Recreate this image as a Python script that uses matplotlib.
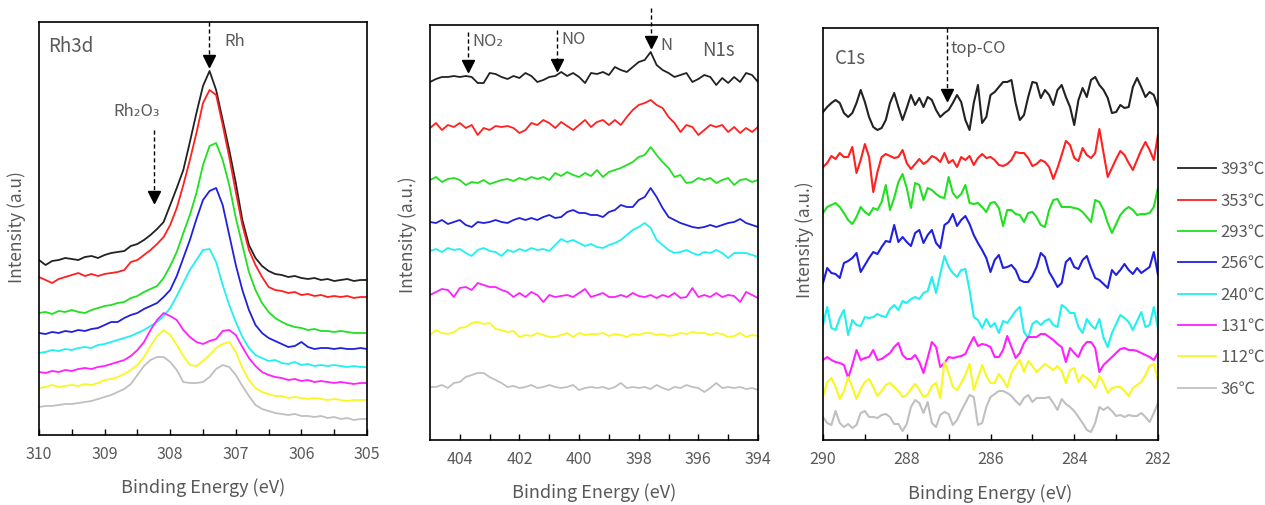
import numpy as np
import matplotlib
matplotlib.use("Agg")
import matplotlib.pyplot as plt

plt.rcParams['font.family'] = ['Noto Sans CJK JP', 'DejaVu Sans']
TXT = '#595959'

temps = ['393℃', '353℃', '293℃', '256℃', '240℃', '131℃', '112℃', '36℃']
colors = ['#222222', '#ff2020', '#20e020', '#2020e0', '#20f0f0', '#ff20ff', '#f8f820', '#c0c0c0']

# Rh3d, 310 -> 305 eV, 0.1 eV step (intensity, a.u., offset stacked)
rh_energy = np.linspace(310, 305, 51)
rh_393 = [175,170,174,175,177,176,175,178,179,177, 180,182,183,184,189,191,195,200,206,213,
          230,247,265,293,322,349,364,345,315,285, 252,215,190,177,169,164,161,160,158,159,
          157,156,157,155,156,154,155,156,154,155,155]
rh_353 = [158,155,152,156,158,160,162,159,161,159, 161,162,163,165,173,175,180,185,191,198,
          210,227,250,275,302,332,345,340,310,278, 243,210,185,170,158,148,145,144,142,143,
          140,141,139,140,138,139,138,139,137,138,138]
rh_293 = [122,123,121,124,123,125,123,122,125,127, 129,130,132,133,137,139,143,146,149,157,
          169,183,202,220,242,270,289,292,275,250, 217,190,163,145,132,123,117,113,110,108,
          107,105,106,104,104,103,104,103,102,102,102]
rh_256 = [102,101,103,102,104,103,105,104,106,107, 110,113,113,117,120,122,126,129,132,138,
          145,159,177,195,216,235,244,247,230,200, 170,145,125,110,102,97,94,91,88,89,
          93,88,86,87,87,86,87,86,86,87,86]
rh_240 = [82,83,85,84,86,85,87,88,87,90, 91,93,95,97,99,102,105,109,113,119,
          127,139,152,165,175,185,186,173,150,130, 113,98,87,80,77,74,75,72,71,73,
          70,71,69,70,69,70,69,68,69,68,68]
rh_131 = [63,62,64,63,65,64,66,67,66,68, 69,71,73,75,79,85,93,105,115,122,
          119,115,105,98,93,91,94,96,104,105, 100,88,77,69,63,60,58,57,55,56,
          54,55,53,54,53,52,53,52,51,52,52]
rh_112 = [47,48,50,48,49,50,49,51,50,52, 55,56,58,61,65,70,78,89,99,105,
          100,90,79,70,69,74,80,87,91,93, 83,67,55,47,43,41,39,39,37,38,
          37,36,37,36,35,36,35,34,35,35,35]
rh_36 = [28,29,29,30,31,31,32,33,34,36, 38,40,43,46,51,60,69,75,78,78,
         73,65,53,52,52,53,58,66,70,68, 60,49,39,30,26,24,22,21,20,21,
         19,19,18,19,17,18,16,17,15,16,16]

# N1s, 405 -> 394 eV, 0.2 eV step
n_energy = np.linspace(405, 394, 56)
n_393 = [358,361,363,363,364,363,364,363,357,357,367,366,363,361,364,362,367,364,358,360,363,364,368,364,367,363,357,367,
         366,368,365,373,370,368,373,378,380,388,375,370,367,363,365,367,358,361,365,363,355,362,357,363,358,367,365,358]
n_353 = [312,317,310,315,313,317,312,315,305,312,310,314,313,314,312,307,310,317,315,320,317,312,318,314,310,315,320,313,
         318,320,315,320,315,323,330,335,337,340,335,332,323,317,308,315,313,305,310,315,313,315,308,313,307,312,308,313]
n_293 = [260,263,258,261,262,260,255,258,257,260,256,258,260,261,259,262,260,263,261,263,260,267,264,268,265,263,267,264,
         270,263,268,270,272,275,278,283,285,293,285,278,272,263,265,257,258,262,260,262,257,260,262,255,260,261,258,260]
n_256 = [218,217,220,216,218,220,215,213,218,217,218,220,218,217,220,222,220,222,220,223,225,222,223,228,230,227,227,225,
         225,223,228,230,235,233,233,240,243,252,243,232,223,220,217,215,213,212,213,215,213,215,217,218,221,217,215,213]
n_240 = [189,191,188,192,190,191,187,184,190,192,189,188,184,190,188,191,189,192,190,191,189,195,201,198,200,197,194,196,
         193,192,195,197,200,205,210,213,217,212,200,195,190,187,188,190,187,185,188,187,190,187,182,187,187,187,185,183]
n_131 = [145,148,151,150,143,152,153,150,157,155,153,153,150,148,143,147,143,148,145,138,145,143,144,145,143,147,151,143,
         145,147,143,143,145,143,147,144,143,145,142,145,143,147,142,143,152,143,145,143,147,143,145,144,138,148,145,142]
n_112 = [105,110,107,106,108,112,113,117,118,116,117,111,110,108,109,103,105,104,107,105,103,103,105,107,103,107,105,106,
         106,107,104,106,105,103,106,105,107,107,105,106,104,105,107,106,108,107,107,105,107,106,103,104,107,103,105,104]
n_36 = [53,53,55,52,57,58,63,65,67,67,63,60,57,53,54,52,53,55,52,53,55,53,52,53,55,50,52,53,
        52,53,51,53,57,52,53,52,53,51,55,52,50,53,52,55,53,52,48,52,57,52,53,52,53,51,52,50]

# C1s, 290 -> 282 eV, 0.1 eV step
c_energy = np.linspace(290, 282, 81)
c_393 = [328,333,337,340,337,327,323,327,337,350,338,323,313,310,312,320,337,347,333,320,
         332,345,335,342,333,343,340,330,323,327,330,337,345,338,320,310,337,355,317,323,
         345,348,353,358,358,360,337,320,325,343,358,357,342,350,345,335,350,355,343,333,
         315,340,352,343,360,363,355,350,342,327,328,335,332,333,353,362,353,343,348,345,333]
c_353 = [273,277,284,281,287,283,283,293,267,280,296,283,248,268,283,286,284,282,283,290,
         277,271,276,281,276,279,284,282,278,287,277,280,273,283,280,284,275,282,286,282,
         283,280,275,274,276,280,288,287,287,282,274,276,280,278,273,261,272,285,299,295,
         282,279,292,285,282,287,311,287,263,272,281,289,285,277,270,280,290,298,290,280,305]
c_293 = [227,233,235,237,233,227,220,216,223,233,228,225,232,230,238,255,230,242,258,266,
         252,232,257,255,240,252,250,246,243,242,263,247,242,246,255,237,236,237,233,228,
         237,238,232,214,230,230,226,225,218,227,228,223,215,213,230,240,241,233,233,233,
         232,231,228,223,218,240,238,230,217,207,216,225,230,233,230,225,226,226,227,233,252]
c_256 = [157,172,167,166,162,177,179,182,187,168,175,182,188,186,193,199,198,215,198,203,
         198,194,207,210,197,205,210,197,192,215,218,226,214,220,224,216,205,197,190,182,
         168,180,185,172,173,175,170,160,158,158,164,173,187,183,168,161,153,157,178,182,
         173,171,180,184,172,162,160,156,152,170,165,170,176,170,166,172,167,170,173,188,165]
c_240 = [115,133,112,110,122,130,105,120,115,114,123,122,123,126,124,123,131,135,130,139,
         137,141,143,141,147,149,163,147,166,184,173,167,163,170,171,150,123,120,112,121,
         113,117,107,119,117,123,129,133,108,102,116,119,115,119,121,115,113,135,132,127,
         127,113,107,121,115,111,121,102,93,107,116,125,122,118,110,119,128,113,115,133,112]
c_131 = [80,83,80,78,77,75,62,75,90,80, 82,83,90,80,81,84,87,93,97,85,
         81,81,85,78,67,82,98,93,73,77, 83,82,83,84,86,95,103,94,96,95,
         93,83,83,90,104,93,82,87,97,103, 103,103,106,106,103,100,96,93,78,92,
         87,83,93,98,98,92,68,75,79,83, 87,91,92,90,90,89,87,85,83,80,87]
c_112 = [43,58,62,53,41,49,63,53,41,51, 58,61,53,44,49,55,57,53,49,43,
         45,51,56,50,43,45,54,57,42,78, 67,53,50,57,65,76,50,62,75,64,
         57,57,66,60,53,67,74,80,68,79, 74,68,72,76,73,70,74,69,57,70,
         72,58,65,62,58,52,64,57,47,52, 53,53,49,44,52,55,58,65,74,76,60]
c_36 = [23,17,15,29,17,13,16,12,15,27, 29,23,23,22,25,26,23,16,16,9,
        16,33,40,37,27,38,17,13,25,28, 26,15,20,29,37,45,43,15,17,33,
        43,46,49,49,47,44,39,35,42,45, 38,42,42,42,43,37,30,41,36,33,
        29,23,17,10,8,17,33,30,33,29, 24,25,23,25,24,24,27,23,18,27,37]

W, H = 1265, 505
fig = plt.figure(figsize=(W / 100, H / 100), dpi=100)


def make_ax(left, top, right, bottom):
    return fig.add_axes([left / W, 1 - bottom / H, (right - left) / W, (bottom - top) / H])


ax1 = make_ax(39, 22, 367, 435)
ax2 = make_ax(430, 25, 758, 440)
ax3 = make_ax(823, 28, 1158, 440)

panels = [
    (ax1, rh_energy, [rh_393, rh_353, rh_293, rh_256, rh_240, rh_131, rh_112, rh_36],
     (310, 305), 413, np.arange(305, 310.01, 0.5), np.arange(305, 311, 1), 'Intensity (a.u)', 1.3),
    (ax2, n_energy, [n_393, n_353, n_293, n_256, n_240, n_131, n_112, n_36],
     (405, 394), 415, np.arange(394, 405, 1), np.arange(394, 405, 2), 'Intensity (a.u.)', 1.3),
    (ax3, c_energy, [c_393, c_353, c_293, c_256, c_240, c_131, c_112, c_36],
     (290, 282), 412, np.arange(282, 291, 1), np.arange(282, 291, 2), 'Intensity (a.u.)', 1.5),
]

for ax, e, series, xl, ytop, minor, major, ylab, lw in panels:
    for vals, col, lab in zip(series, colors, temps):
        ax.plot(e, vals, color=col, lw=lw, label=lab)
    ax.set_xlim(*xl)
    ax.set_ylim(0, ytop)
    ax.set_yticks([])
    ax.set_xticks(minor, minor=True)
    ax.set_xticks(major)
    ax.set_xticklabels([f'{v:g}' for v in major])
    ax.tick_params(axis='x', which='both', direction='in', length=4, width=1,
                   labelsize=11.5, labelcolor=TXT, pad=8)
    for s in ax.spines.values():
        s.set_linewidth(1.2)
        s.set_color('black')
    ax.set_xlabel('Binding Energy (eV)', fontsize=13, color=TXT)
    ax.set_ylabel(ylab, fontsize=12.5, color=TXT)

ax1.xaxis.set_label_coords(0.5, -43 / 413)
ax2.xaxis.set_label_coords(0.5, -43 / 415)
ax3.xaxis.set_label_coords(0.5, -44 / 412)
ax1.yaxis.set_label_coords(-13 / 328, 0.504)
ax2.yaxis.set_label_coords(-13 / 328, 0.494)
ax3.yaxis.set_label_coords(-9 / 335, 0.485)


def marker_arrow(ax, x, y0, y1):
    # dashed shaft with filled head pointing down to (x, y1)
    ax.plot([x, x], [y0, y1 + 6], color='black', lw=1.0, ls=(0, (3, 2)), clip_on=False)
    ax.plot([x], [y1 + 5], marker='v', color='black', ms=8, clip_on=False)


# Rh3d annotations
ax1.text(309.86, 388, 'Rh3d', fontsize=13.5, color=TXT, va='center')
ax1.text(307.18, 394, 'Rh', fontsize=12, color=TXT, va='center')
ax1.text(308.87, 323, 'Rh₂O₃', fontsize=12, color=TXT, va='center')
marker_arrow(ax1, 307.41, 413, 369)
marker_arrow(ax1, 308.25, 305, 233)

# N1s annotations
ax2.text(395.86, 390, 'N1s', fontsize=13.5, color=TXT, va='center')
ax2.text(403.59, 398, 'NO₂', fontsize=12, color=TXT, va='center')
ax2.text(400.60, 401, 'NO', fontsize=12, color=TXT, va='center')
ax2.text(397.27, 395, 'N', fontsize=12, color=TXT, va='center')
marker_arrow(ax2, 403.73, 408, 369)
marker_arrow(ax2, 400.73, 410, 370)
marker_arrow(ax2, 397.60, 432, 393)

# C1s annotations
ax3.text(289.71, 382, 'C1s', fontsize=13.5, color=TXT, va='center')
ax3.text(286.95, 392, 'top-CO', fontsize=12, color=TXT, va='center')
marker_arrow(ax3, 287.05, 412, 340)

handles, labels = ax3.get_legend_handles_labels()
leg = fig.legend(handles, labels, loc='upper left', bbox_to_anchor=(1178 / W, 1 - 161 / H),
                 frameon=False, fontsize=12, handlelength=2.25, handletextpad=0.3,
                 labelspacing=0.86, borderpad=0, borderaxespad=0)
for h in leg.legend_handles:
    h.set_linewidth(1.3)
for t in leg.get_texts():
    t.set_color(TXT)

fig.savefig('out.png', dpi=100)
